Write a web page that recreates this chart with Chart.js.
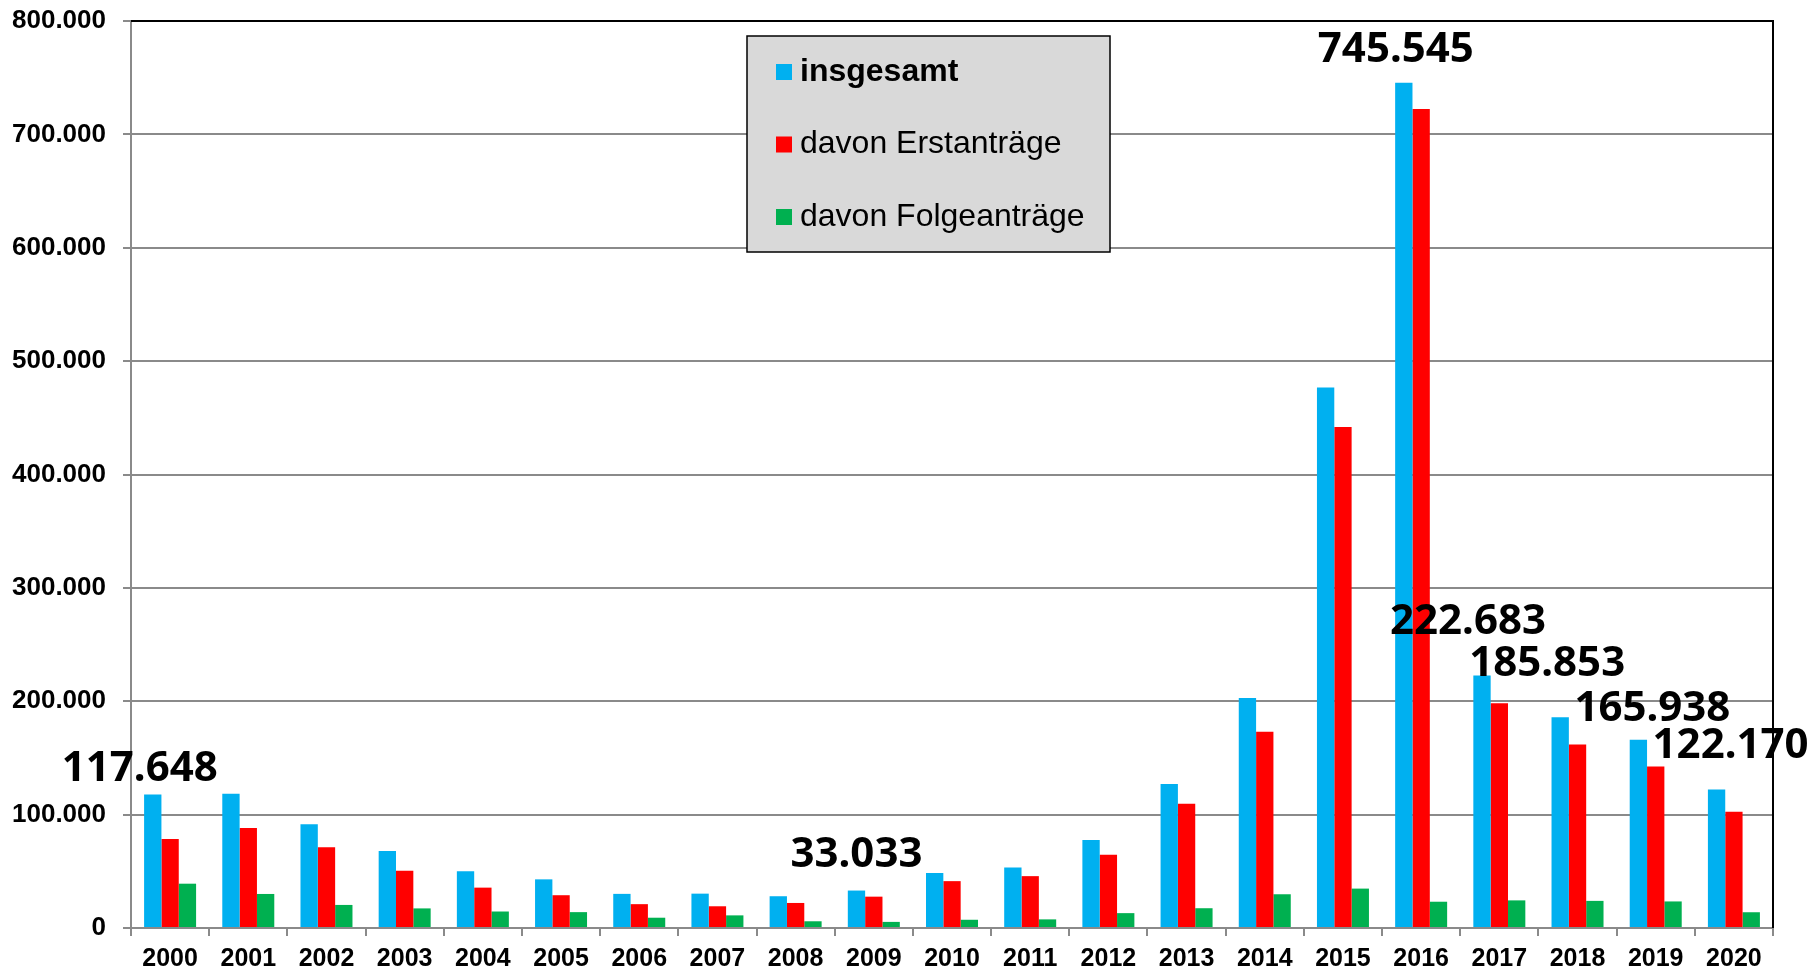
<!DOCTYPE html>
<html>
<head>
<meta charset="utf-8">
<script src="https://cdn.jsdelivr.net/npm/chart.js@4.4.0/dist/chart.umd.min.js"></script>
<style>
  body { margin: 0; background: #fff; }
  #wrap { width: 1814px; height: 973px; position: relative; }
</style>
</head>
<body>
<div id="wrap"><canvas id="asyl"></canvas></div>
<script>
//? Jahre (x axis)
const years = ['2000', '2001', '2002', '2003', '2004', '2005', '2006', '2007', '2008', '2009', '2010',
  '2011', '2012', '2013', '2014', '2015', '2016', '2017', '2018', '2019', '2020']

//? Asylanträge insgesamt
const insgesamt = [117648, 118306, 91471, 67848, 50152, 42908, 30100, 30303, 28018, 33033, 48589,
  53347, 77651, 127023, 202834, 476649, 745545, 222683, 185853, 165938, 122170]

//? davon Erstanträge
const erstantraege = [78564, 88287, 71127, 50563, 35607, 28914, 21029, 19164, 22085, 27649, 41332,
  45741, 64539, 109580, 173072, 441899, 722370, 198317, 161931, 142509, 102581]

//? davon Folgeanträge
const folgeantraege = [39084, 30019, 20344, 17285, 14545, 13994, 9071, 11139, 5933, 5384, 7257,
  7606, 13112, 17443, 29762, 34750, 23175, 24366, 23922, 23429, 13900]

//? y axis ticks
const yTicks = [0, 100000, 200000, 300000, 400000, 500000, 600000, 700000, 800000]

//? years that get a big value label (insgesamt)
const labelYears = ['2000', '2009', '2016', '2017', '2018', '2019', '2020']

// label centre offset from top of the blue bar (placed by hand in the original)
const labelOffsets = {
  '2000': [-13, -29],
  '2009': [0, -39],
  '2016': [-8, -36],
  '2017': [-14, -57],
  '2018': [-13, -56],
  '2019': [14, -34],
  '2020': [14, -46],
}

const GRID = '#8a8a8a'
const tickFont = '"Liberation Sans", Arial, sans-serif'

// black frame on top and right side of the plot area
const frameLines = {
  id: 'frameLines',
  beforeDatasetsDraw(chart) {
    const { ctx, chartArea } = chart
    ctx.save()
    ctx.strokeStyle = '#000'
    ctx.lineWidth = 2
    ctx.beginPath()
    ctx.moveTo(chartArea.left, chartArea.top)
    ctx.lineTo(chartArea.right, chartArea.top)
    ctx.lineTo(chartArea.right, chartArea.bottom)
    ctx.stroke()
    ctx.restore()
  }
}

// grey legend box inside the plot
const legendBox = {
  id: 'legendBox',
  afterDraw(chart) {
    const { ctx, chartArea } = chart
    const x = chartArea.left + 616
    const y = chartArea.top + 15
    const w = 363, h = 216
    ctx.save()
    ctx.fillStyle = '#d9d9d9'
    ctx.fillRect(x, y, w, h)
    ctx.strokeStyle = '#000'
    ctx.lineWidth = 1.5
    ctx.strokeRect(x, y, w, h)
    chart.data.datasets.forEach((ds, i) => {
      const cy = y + 36 + i * 72.5
      ctx.fillStyle = ds.backgroundColor
      ctx.fillRect(x + 29, cy - 8, 16, 16)
      ctx.fillStyle = '#000'
      ctx.font = (i === 0 ? 'bold ' : '') + '32px ' + tickFont
      ctx.textBaseline = 'middle'
      ctx.textAlign = 'left'
      ctx.fillText(ds.label, x + 53, cy)
    })
    ctx.restore()
  }
}

// big value labels above selected blue bars
const valueLabels = {
  id: 'valueLabels',
  afterDraw(chart) {
    const { ctx } = chart
    const bars = chart.getDatasetMeta(0).data
    ctx.save()
    ctx.font = 'bold 42px "Noto Sans", "Open Sans", sans-serif'
    ctx.fillStyle = '#000'
    ctx.textAlign = 'center'
    ctx.textBaseline = 'alphabetic'
    labelYears.forEach(yr => {
      const i = years.indexOf(yr)
      const bar = bars[i]
      const [dx, dy] = labelOffsets[yr]
      ctx.fillText(insgesamt[i].toLocaleString('de-DE'), bar.x + dx, bar.y + dy + 15)
    })
    ctx.restore()
  }
}

let ctx = document.getElementById('asyl').getContext('2d')

chart = new Chart(ctx, {
  type: 'bar',
  data: {
    labels: years,
    datasets: [
      { label: 'insgesamt', data: insgesamt, backgroundColor: '#00b0f0' },
      { label: 'davon Erstanträge', data: erstantraege, backgroundColor: '#ff0000' },
      { label: 'davon Folgeanträge', data: folgeantraege, backgroundColor: '#00b050' },
    ],
  },
  options: {
    responsive: true,
    maintainAspectRatio: false,
    animation: false,
    categoryPercentage: 0.665,
    barPercentage: 1.0,
    layout: { padding: { left: 0, top: 21, right: 41, bottom: 0 } },
    plugins: {
      legend: { display: false },
      tooltip: { enabled: false },
    },
    scales: {
      x: {
        afterFit(scale) { scale.height = 45 },
        grid: {
          offset: true,
          drawOnChartArea: false,
          drawTicks: true,
          tickLength: 8,
          color: GRID,
          lineWidth: 2,
        },
        border: { color: GRID, width: 2 },
        ticks: {
          color: '#000',
          padding: 8,
          maxRotation: 0,
          autoSkip: false,
          font: { family: tickFont, size: 25, weight: 'bold' },
        },
      },
      y: {
        min: 0,
        max: 800000,
        afterFit(scale) {
          scale.width = 131
          scale.paddingTop = 0
          scale.paddingBottom = 0
        },
        afterBuildTicks(scale) { scale.ticks = yTicks.map(v => ({ value: v })) },
        grid: {
          color: GRID,
          lineWidth: 2,
          drawTicks: true,
          tickLength: 8,
        },
        border: { color: GRID, width: 2 },
        ticks: {
          color: '#000',
          padding: 17,
          font: { family: tickFont, size: 26, weight: 'bold' },
          callback: v => v.toLocaleString('de-DE'),
        },
      },
    },
  },
  plugins: [frameLines, legendBox, valueLabels],
})
</script>
</body>
</html>
